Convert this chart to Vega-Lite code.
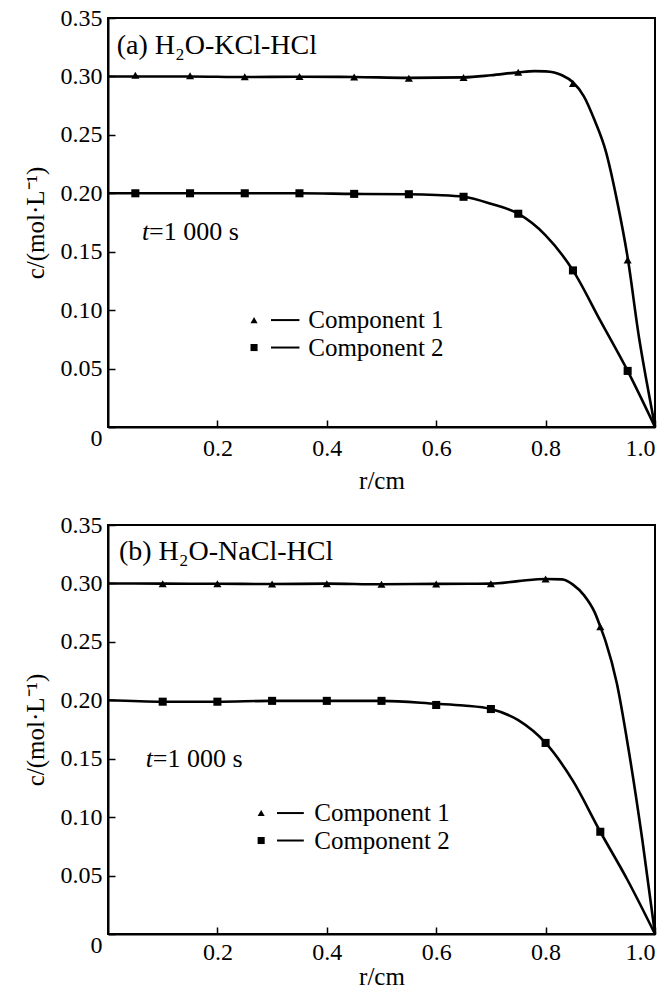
{
  "$schema": "https://vega.github.io/schema/vega-lite/v6.json",
  "padding": {"left": 22, "top": 5, "right": 8, "bottom": 0},
  "spacing": 18,
  "config": {
    "font": "Liberation Serif",
    "view": {"stroke": "black", "strokeWidth": 2},
    "axis": {
      "grid": false,
      "labelFont": "Liberation Serif",
      "titleFont": "Liberation Serif",
      "labelFontSize": 24,
      "titleFontSize": 25,
      "titleFontWeight": "normal",
      "labelColor": "black",
      "titleColor": "black",
      "domainColor": "black",
      "domainWidth": 2,
      "tickColor": "black",
      "tickWidth": 1.5
    },
    "text": {"font": "Liberation Serif", "fontSize": 26, "color": "black"}
  },
  "datasets": {
    "curves": [
      {"panel": "a", "comp": "Component 1", "r": 0.0, "c": 0.3},
      {"panel": "a", "comp": "Component 1", "r": 0.05, "c": 0.3},
      {"panel": "a", "comp": "Component 1", "r": 0.15, "c": 0.3},
      {"panel": "a", "comp": "Component 1", "r": 0.25, "c": 0.2995},
      {"panel": "a", "comp": "Component 1", "r": 0.35, "c": 0.2997},
      {"panel": "a", "comp": "Component 1", "r": 0.45, "c": 0.2995},
      {"panel": "a", "comp": "Component 1", "r": 0.55, "c": 0.2988},
      {"panel": "a", "comp": "Component 1", "r": 0.65, "c": 0.2992},
      {"panel": "a", "comp": "Component 1", "r": 0.7, "c": 0.301},
      {"panel": "a", "comp": "Component 1", "r": 0.75, "c": 0.3035},
      {"panel": "a", "comp": "Component 1", "r": 0.78, "c": 0.3045},
      {"panel": "a", "comp": "Component 1", "r": 0.8, "c": 0.3043},
      {"panel": "a", "comp": "Component 1", "r": 0.83, "c": 0.301},
      {"panel": "a", "comp": "Component 1", "r": 0.85, "c": 0.295},
      {"panel": "a", "comp": "Component 1", "r": 0.87, "c": 0.283},
      {"panel": "a", "comp": "Component 1", "r": 0.89, "c": 0.262},
      {"panel": "a", "comp": "Component 1", "r": 0.91, "c": 0.236},
      {"panel": "a", "comp": "Component 1", "r": 0.93, "c": 0.195},
      {"panel": "a", "comp": "Component 1", "r": 0.95, "c": 0.145},
      {"panel": "a", "comp": "Component 1", "r": 0.971, "c": 0.076},
      {"panel": "a", "comp": "Component 1", "r": 0.985, "c": 0.038},
      {"panel": "a", "comp": "Component 1", "r": 1.0, "c": 0.0},
      {"panel": "a", "comp": "Component 2", "r": 0.0, "c": 0.2},
      {"panel": "a", "comp": "Component 2", "r": 0.05, "c": 0.2},
      {"panel": "a", "comp": "Component 2", "r": 0.15, "c": 0.2},
      {"panel": "a", "comp": "Component 2", "r": 0.25, "c": 0.2},
      {"panel": "a", "comp": "Component 2", "r": 0.35, "c": 0.2},
      {"panel": "a", "comp": "Component 2", "r": 0.45, "c": 0.1995},
      {"panel": "a", "comp": "Component 2", "r": 0.55, "c": 0.1992},
      {"panel": "a", "comp": "Component 2", "r": 0.6, "c": 0.1985},
      {"panel": "a", "comp": "Component 2", "r": 0.65, "c": 0.197},
      {"panel": "a", "comp": "Component 2", "r": 0.7, "c": 0.191},
      {"panel": "a", "comp": "Component 2", "r": 0.75, "c": 0.1825},
      {"panel": "a", "comp": "Component 2", "r": 0.8, "c": 0.164},
      {"panel": "a", "comp": "Component 2", "r": 0.85, "c": 0.134},
      {"panel": "a", "comp": "Component 2", "r": 0.9, "c": 0.091},
      {"panel": "a", "comp": "Component 2", "r": 0.95, "c": 0.048},
      {"panel": "a", "comp": "Component 2", "r": 1.0, "c": 0.0},
      {"panel": "b", "comp": "Component 1", "r": 0.0, "c": 0.3},
      {"panel": "b", "comp": "Component 1", "r": 0.1, "c": 0.2998},
      {"panel": "b", "comp": "Component 1", "r": 0.2, "c": 0.2997},
      {"panel": "b", "comp": "Component 1", "r": 0.3, "c": 0.2995},
      {"panel": "b", "comp": "Component 1", "r": 0.4, "c": 0.2998},
      {"panel": "b", "comp": "Component 1", "r": 0.5, "c": 0.2993},
      {"panel": "b", "comp": "Component 1", "r": 0.6, "c": 0.2996},
      {"panel": "b", "comp": "Component 1", "r": 0.7, "c": 0.2998},
      {"panel": "b", "comp": "Component 1", "r": 0.75, "c": 0.302},
      {"panel": "b", "comp": "Component 1", "r": 0.8, "c": 0.3038},
      {"panel": "b", "comp": "Component 1", "r": 0.83, "c": 0.3035},
      {"panel": "b", "comp": "Component 1", "r": 0.85, "c": 0.299},
      {"panel": "b", "comp": "Component 1", "r": 0.87, "c": 0.29},
      {"panel": "b", "comp": "Component 1", "r": 0.89, "c": 0.275},
      {"panel": "b", "comp": "Component 1", "r": 0.9, "c": 0.263},
      {"panel": "b", "comp": "Component 1", "r": 0.91, "c": 0.25},
      {"panel": "b", "comp": "Component 1", "r": 0.93, "c": 0.215},
      {"panel": "b", "comp": "Component 1", "r": 0.952, "c": 0.157},
      {"panel": "b", "comp": "Component 1", "r": 0.977, "c": 0.08},
      {"panel": "b", "comp": "Component 1", "r": 1.0, "c": 0.0},
      {"panel": "b", "comp": "Component 2", "r": 0.0, "c": 0.2},
      {"panel": "b", "comp": "Component 2", "r": 0.1, "c": 0.1988},
      {"panel": "b", "comp": "Component 2", "r": 0.2, "c": 0.1988},
      {"panel": "b", "comp": "Component 2", "r": 0.3, "c": 0.1995},
      {"panel": "b", "comp": "Component 2", "r": 0.4, "c": 0.1995},
      {"panel": "b", "comp": "Component 2", "r": 0.5, "c": 0.1995},
      {"panel": "b", "comp": "Component 2", "r": 0.6, "c": 0.197},
      {"panel": "b", "comp": "Component 2", "r": 0.65, "c": 0.1955},
      {"panel": "b", "comp": "Component 2", "r": 0.7, "c": 0.1925},
      {"panel": "b", "comp": "Component 2", "r": 0.75, "c": 0.183},
      {"panel": "b", "comp": "Component 2", "r": 0.8, "c": 0.1635},
      {"panel": "b", "comp": "Component 2", "r": 0.85, "c": 0.131},
      {"panel": "b", "comp": "Component 2", "r": 0.9, "c": 0.0875},
      {"panel": "b", "comp": "Component 2", "r": 0.95, "c": 0.046},
      {"panel": "b", "comp": "Component 2", "r": 1.0, "c": 0.0}
    ],
    "markers": [
      {"panel": "a", "comp": "Component 1", "r": 0.05, "c": 0.301},
      {"panel": "a", "comp": "Component 1", "r": 0.15, "c": 0.3005},
      {"panel": "a", "comp": "Component 1", "r": 0.25, "c": 0.2998},
      {"panel": "a", "comp": "Component 1", "r": 0.35, "c": 0.3},
      {"panel": "a", "comp": "Component 1", "r": 0.45, "c": 0.2995},
      {"panel": "a", "comp": "Component 1", "r": 0.55, "c": 0.2985},
      {"panel": "a", "comp": "Component 1", "r": 0.65, "c": 0.299},
      {"panel": "a", "comp": "Component 1", "r": 0.75, "c": 0.3035},
      {"panel": "a", "comp": "Component 1", "r": 0.85, "c": 0.294},
      {"panel": "a", "comp": "Component 1", "r": 0.95, "c": 0.143},
      {"panel": "a", "comp": "Component 2", "r": 0.05, "c": 0.2},
      {"panel": "a", "comp": "Component 2", "r": 0.15, "c": 0.2},
      {"panel": "a", "comp": "Component 2", "r": 0.25, "c": 0.2},
      {"panel": "a", "comp": "Component 2", "r": 0.35, "c": 0.2},
      {"panel": "a", "comp": "Component 2", "r": 0.45, "c": 0.1995},
      {"panel": "a", "comp": "Component 2", "r": 0.55, "c": 0.1992},
      {"panel": "a", "comp": "Component 2", "r": 0.65, "c": 0.197},
      {"panel": "a", "comp": "Component 2", "r": 0.75, "c": 0.1825},
      {"panel": "a", "comp": "Component 2", "r": 0.85, "c": 0.134},
      {"panel": "a", "comp": "Component 2", "r": 0.95, "c": 0.048},
      {"panel": "b", "comp": "Component 1", "r": 0.1, "c": 0.2998},
      {"panel": "b", "comp": "Component 1", "r": 0.2, "c": 0.2997},
      {"panel": "b", "comp": "Component 1", "r": 0.3, "c": 0.2995},
      {"panel": "b", "comp": "Component 1", "r": 0.4, "c": 0.2998},
      {"panel": "b", "comp": "Component 1", "r": 0.5, "c": 0.2993},
      {"panel": "b", "comp": "Component 1", "r": 0.6, "c": 0.2996},
      {"panel": "b", "comp": "Component 1", "r": 0.7, "c": 0.2998},
      {"panel": "b", "comp": "Component 1", "r": 0.8, "c": 0.3037},
      {"panel": "b", "comp": "Component 1", "r": 0.9, "c": 0.263},
      {"panel": "b", "comp": "Component 2", "r": 0.1, "c": 0.1988},
      {"panel": "b", "comp": "Component 2", "r": 0.2, "c": 0.1988},
      {"panel": "b", "comp": "Component 2", "r": 0.3, "c": 0.1995},
      {"panel": "b", "comp": "Component 2", "r": 0.4, "c": 0.1995},
      {"panel": "b", "comp": "Component 2", "r": 0.5, "c": 0.1995},
      {"panel": "b", "comp": "Component 2", "r": 0.6, "c": 0.196},
      {"panel": "b", "comp": "Component 2", "r": 0.7, "c": 0.1925},
      {"panel": "b", "comp": "Component 2", "r": 0.8, "c": 0.1635},
      {"panel": "b", "comp": "Component 2", "r": 0.9, "c": 0.0875}
    ],
    "legend": [
      {"panel": "a", "comp": "Component 1", "r": 0.267, "r1": 0.298, "r2": 0.35, "rt": 0.366, "c": 0.0915},
      {"panel": "a", "comp": "Component 2", "r": 0.267, "r1": 0.298, "r2": 0.35, "rt": 0.366, "c": 0.068},
      {"panel": "b", "comp": "Component 1", "r": 0.28, "r1": 0.309, "r2": 0.358, "rt": 0.377, "c": 0.1035},
      {"panel": "b", "comp": "Component 2", "r": 0.28, "r1": 0.309, "r2": 0.358, "rt": 0.377, "c": 0.08}
    ],
    "texts": [
      {"panel": "a", "r": 0.075, "c": 0.167, "label": "=1 000 s"},
      {"panel": "b", "r": 0.082, "c": 0.150, "label": "=1 000 s"}
    ],
    "titles": [
      {"panel": "a", "r": 0.016, "c": 0.326, "label": "(a)  H₂O-KCl-HCl"},
      {"panel": "b", "r": 0.02, "c": 0.327, "label": "(b)  H₂O-NaCl-HCl"}
    ],
    "italic": [
      {"panel": "a", "r": 0.062, "c": 0.167, "label": "t"},
      {"panel": "b", "r": 0.069, "c": 0.150, "label": "t"}
    ]
  },
  "vconcat": [
    {
      "width": 547,
      "height": 409,
      "layer": [
        {
          "data": {"name": "curves"},
          "transform": [{"filter": "datum.panel == 'a'"}],
          "mark": {"type": "line", "interpolate": "monotone", "color": "black", "strokeWidth": 2.6},
          "encoding": {
            "x": {"field": "r", "type": "quantitative", "scale": {"domain": [0, 1], "nice": false},
              "axis": {"title": "r/cm", "values": [0.2, 0.4, 0.6, 0.8, 1.0], "labelExpr": "format(datum.value, '.1f')", "tickSize": -7, "labelPadding": 16, "titlePadding": 8, "labelFont": "Liberation Serif", "titleFont": "Liberation Serif", "labelFontSize": 24, "titleFontSize": 25}},
            "y": {"field": "c", "type": "quantitative", "scale": {"domain": [0, 0.35], "nice": false},
              "axis": {"title": "c/(mol·L⁻¹)", "values": [0, 0.05, 0.1, 0.15, 0.2, 0.25, 0.3, 0.35], "labelExpr": "datum.value == 0 ? '0' : format(datum.value, '.2f')", "tickSize": -7, "labelPadding": 13, "titlePadding": 12, "labelFont": "Liberation Serif", "titleFont": "Liberation Serif", "labelFontSize": 24, "titleFontSize": 25,
                "labelOffset": {"condition": {"test": "datum.value == 0", "value": 11}, "value": 0}}},
            "detail": {"field": "comp"}
          }
        },
        {
          "data": {"name": "markers"},
          "transform": [{"filter": "datum.panel == 'a'"}],
          "mark": {"type": "point", "filled": true, "color": "black", "opacity": 1, "size": 65},
          "encoding": {
            "x": {"field": "r", "type": "quantitative"},
            "y": {"field": "c", "type": "quantitative"},
            "shape": {"field": "comp", "type": "nominal", "scale": {"domain": ["Component 1", "Component 2"], "range": ["triangle-up", "square"]}, "legend": null}
          }
        },
        {
          "data": {"name": "legend"},
          "transform": [{"filter": "datum.panel == 'a'"}],
          "mark": {"type": "rule", "color": "black", "strokeWidth": 2},
          "encoding": {
            "x": {"field": "r1", "type": "quantitative"},
            "x2": {"field": "r2"},
            "y": {"field": "c", "type": "quantitative"}
          }
        },
        {
          "data": {"name": "legend"},
          "transform": [{"filter": "datum.panel == 'a'"}],
          "mark": {"type": "point", "filled": true, "color": "black", "opacity": 1, "size": 50},
          "encoding": {
            "x": {"field": "r", "type": "quantitative"},
            "y": {"field": "c", "type": "quantitative"},
            "shape": {"field": "comp", "type": "nominal", "scale": {"domain": ["Component 1", "Component 2"], "range": ["triangle-up", "square"]}, "legend": null}
          }
        },
        {
          "data": {"name": "legend"},
          "transform": [{"filter": "datum.panel == 'a'"}],
          "mark": {"type": "text", "align": "left", "baseline": "middle", "fontSize": 25},
          "encoding": {
            "x": {"field": "rt", "type": "quantitative"},
            "y": {"field": "c", "type": "quantitative"},
            "text": {"field": "comp"}
          }
        },
        {
          "data": {"name": "texts"},
          "transform": [{"filter": "datum.panel == 'a'"}],
          "mark": {"type": "text", "align": "left", "baseline": "middle", "fontSize": 26},
          "encoding": {
            "x": {"field": "r", "type": "quantitative"},
            "y": {"field": "c", "type": "quantitative"},
            "text": {"field": "label"}
          }
        },
        {
          "data": {"name": "titles"},
          "transform": [{"filter": "datum.panel == 'a'"}],
          "mark": {"type": "text", "align": "left", "baseline": "middle", "fontSize": 28},
          "encoding": {
            "x": {"field": "r", "type": "quantitative"},
            "y": {"field": "c", "type": "quantitative"},
            "text": {"field": "label"}
          }
        },
        {
          "data": {"name": "italic"},
          "transform": [{"filter": "datum.panel == 'a'"}],
          "mark": {"type": "text", "align": "left", "baseline": "middle", "fontSize": 26, "fontStyle": "italic"},
          "encoding": {
            "x": {"field": "r", "type": "quantitative"},
            "y": {"field": "c", "type": "quantitative"},
            "text": {"field": "label"}
          }
        }
      ]
    },
    {
      "width": 547,
      "height": 409,
      "layer": [
        {
          "data": {"name": "curves"},
          "transform": [{"filter": "datum.panel == 'b'"}],
          "mark": {"type": "line", "interpolate": "monotone", "color": "black", "strokeWidth": 2.6},
          "encoding": {
            "x": {"field": "r", "type": "quantitative", "scale": {"domain": [0, 1], "nice": false},
              "axis": {"title": "r/cm", "values": [0.2, 0.4, 0.6, 0.8, 1.0], "labelExpr": "format(datum.value, '.1f')", "tickSize": -7, "labelPadding": 13, "titlePadding": 0, "labelFont": "Liberation Serif", "titleFont": "Liberation Serif", "labelFontSize": 24, "titleFontSize": 25}},
            "y": {"field": "c", "type": "quantitative", "scale": {"domain": [0, 0.35], "nice": false},
              "axis": {"title": "c/(mol·L⁻¹)", "values": [0, 0.05, 0.1, 0.15, 0.2, 0.25, 0.3, 0.35], "labelExpr": "datum.value == 0 ? '0' : format(datum.value, '.2f')", "tickSize": -7, "labelPadding": 13, "titlePadding": 12, "labelFont": "Liberation Serif", "titleFont": "Liberation Serif", "labelFontSize": 24, "titleFontSize": 25,
                "labelOffset": {"condition": {"test": "datum.value == 0", "value": 11}, "value": 0}}},
            "detail": {"field": "comp"}
          }
        },
        {
          "data": {"name": "markers"},
          "transform": [{"filter": "datum.panel == 'b'"}],
          "mark": {"type": "point", "filled": true, "color": "black", "opacity": 1, "size": 65},
          "encoding": {
            "x": {"field": "r", "type": "quantitative"},
            "y": {"field": "c", "type": "quantitative"},
            "shape": {"field": "comp", "type": "nominal", "scale": {"domain": ["Component 1", "Component 2"], "range": ["triangle-up", "square"]}, "legend": null}
          }
        },
        {
          "data": {"name": "legend"},
          "transform": [{"filter": "datum.panel == 'b'"}],
          "mark": {"type": "rule", "color": "black", "strokeWidth": 2},
          "encoding": {
            "x": {"field": "r1", "type": "quantitative"},
            "x2": {"field": "r2"},
            "y": {"field": "c", "type": "quantitative"}
          }
        },
        {
          "data": {"name": "legend"},
          "transform": [{"filter": "datum.panel == 'b'"}],
          "mark": {"type": "point", "filled": true, "color": "black", "opacity": 1, "size": 50},
          "encoding": {
            "x": {"field": "r", "type": "quantitative"},
            "y": {"field": "c", "type": "quantitative"},
            "shape": {"field": "comp", "type": "nominal", "scale": {"domain": ["Component 1", "Component 2"], "range": ["triangle-up", "square"]}, "legend": null}
          }
        },
        {
          "data": {"name": "legend"},
          "transform": [{"filter": "datum.panel == 'b'"}],
          "mark": {"type": "text", "align": "left", "baseline": "middle", "fontSize": 25},
          "encoding": {
            "x": {"field": "rt", "type": "quantitative"},
            "y": {"field": "c", "type": "quantitative"},
            "text": {"field": "comp"}
          }
        },
        {
          "data": {"name": "texts"},
          "transform": [{"filter": "datum.panel == 'b'"}],
          "mark": {"type": "text", "align": "left", "baseline": "middle", "fontSize": 26},
          "encoding": {
            "x": {"field": "r", "type": "quantitative"},
            "y": {"field": "c", "type": "quantitative"},
            "text": {"field": "label"}
          }
        },
        {
          "data": {"name": "titles"},
          "transform": [{"filter": "datum.panel == 'b'"}],
          "mark": {"type": "text", "align": "left", "baseline": "middle", "fontSize": 28},
          "encoding": {
            "x": {"field": "r", "type": "quantitative"},
            "y": {"field": "c", "type": "quantitative"},
            "text": {"field": "label"}
          }
        },
        {
          "data": {"name": "italic"},
          "transform": [{"filter": "datum.panel == 'b'"}],
          "mark": {"type": "text", "align": "left", "baseline": "middle", "fontSize": 26, "fontStyle": "italic"},
          "encoding": {
            "x": {"field": "r", "type": "quantitative"},
            "y": {"field": "c", "type": "quantitative"},
            "text": {"field": "label"}
          }
        }
      ]
    }
  ]
}
